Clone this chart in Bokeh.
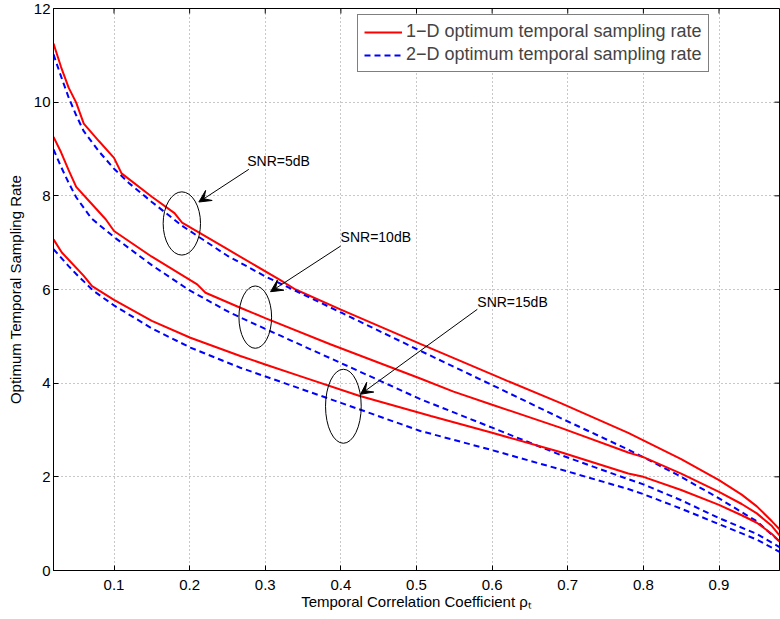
from bokeh.plotting import figure
from bokeh.models import Range1d, FixedTicker, Legend, LegendItem, Arrow, VeeHead
from bokeh.core.properties import value
from bokeh.embed import file_html
from bokeh.resources import INLINE

# ---- data ----
x_ticks = [0.1, 0.2, 0.3, 0.4, 0.5, 0.6, 0.7, 0.8, 0.9]
y_ticks = [0, 2, 4, 6, 8, 10, 12]

x_r5 = [0.02, 0.03, 0.04, 0.05, 0.06, 0.08, 0.10, 0.11, 0.15, 0.18, 0.19, 0.25, 0.32, 0.34, 0.40, 0.505, 0.61, 0.62, 0.69, 0.78, 0.80, 0.85, 0.90, 0.93, 0.95, 0.97, 0.98]
y_r5 = [11.25, 10.75, 10.31, 9.99, 9.54, 9.17, 8.81, 8.48, 7.98, 7.63, 7.43, 6.86, 6.20, 6.00, 5.57, 4.84, 4.12, 4.05, 3.58, 2.94, 2.78, 2.38, 1.93, 1.62, 1.37, 1.05, 0.88]

x_b5 = [0.02, 0.03, 0.04, 0.05, 0.06, 0.08, 0.10, 0.12, 0.15, 0.19, 0.25, 0.30, 0.40, 0.50, 0.60, 0.69, 0.78, 0.80, 0.85, 0.90, 0.95, 0.98]
y_b5 = [11.02, 10.55, 10.10, 9.72, 9.38, 8.95, 8.58, 8.27, 7.87, 7.36, 6.72, 6.28, 5.51, 4.73, 3.96, 3.26, 2.58, 2.42, 2.00, 1.54, 1.05, 0.62]

x_r10 = [0.02, 0.03, 0.04, 0.05, 0.067, 0.089, 0.10, 0.15, 0.21, 0.221, 0.267, 0.30, 0.386, 0.505, 0.549, 0.60, 0.69, 0.78, 0.80, 0.85, 0.90, 0.93, 0.95, 0.97, 0.98]
y_r10 = [9.26, 8.93, 8.55, 8.19, 7.89, 7.50, 7.25, 6.70, 6.11, 5.93, 5.61, 5.39, 4.83, 4.10, 3.82, 3.54, 3.05, 2.52, 2.42, 2.07, 1.68, 1.42, 1.22, 0.95, 0.75]

x_b10 = [0.02, 0.03, 0.04, 0.05, 0.07, 0.10, 0.15, 0.20, 0.254, 0.30, 0.40, 0.505, 0.60, 0.69, 0.78, 0.80, 0.85, 0.90, 0.95, 0.98]
y_b10 = [8.99, 8.62, 8.28, 7.97, 7.52, 7.12, 6.52, 5.98, 5.50, 5.16, 4.43, 3.66, 3.05, 2.47, 1.95, 1.84, 1.50, 1.12, 0.78, 0.50]

x_r15 = [0.02, 0.031, 0.045, 0.06, 0.071, 0.10, 0.15, 0.201, 0.267, 0.30, 0.35, 0.424, 0.519, 0.60, 0.69, 0.78, 0.80, 0.85, 0.90, 0.93, 0.95, 0.97, 0.98]
y_r15 = [7.07, 6.79, 6.55, 6.29, 6.07, 5.78, 5.33, 4.97, 4.58, 4.40, 4.13, 3.73, 3.30, 2.94, 2.53, 2.07, 2.00, 1.72, 1.40, 1.18, 1.02, 0.78, 0.62]

x_b15 = [0.02, 0.04, 0.05, 0.073, 0.10, 0.15, 0.201, 0.267, 0.40, 0.505, 0.60, 0.69, 0.78, 0.80, 0.85, 0.90, 0.95, 0.98]
y_b15 = [6.86, 6.50, 6.33, 5.97, 5.66, 5.17, 4.76, 4.33, 3.58, 2.98, 2.57, 2.16, 1.74, 1.63, 1.32, 0.99, 0.66, 0.40]

# annotations (ellipses, arrows, labels)
ell_x = [0.1897, 0.2868, 0.4033]
ell_y = [7.41, 5.41, 3.507]
ell_w = [0.0494, 0.0432, 0.0472]
ell_h = [1.35, 1.33, 1.58]

arr_x0 = [0.2783, 0.3996, 0.5804]
arr_y0 = [8.566, 6.927, 5.577]
arr_x1 = [0.2122, 0.3070, 0.4260]
arr_y1 = [7.868, 5.953, 3.763]

ann_text = ["SNR=5dB", "SNR=10dB", "SNR=15dB"]
ann_x = [0.2762, 0.3996, 0.5804]
ann_y = [8.74, 7.12, 5.73]

FONT = "Liberation Sans"
X_MIN, X_MAX, Y_MIN, Y_MAX = 0.02, 0.98, 0, 12

p = figure(width=780, height=619,
           x_range=Range1d(X_MIN, X_MAX), y_range=Range1d(Y_MIN, Y_MAX),
           output_backend="svg", toolbar_location=None,
           min_border_left=53, min_border_right=1, min_border_top=8, min_border_bottom=49)

p.outline_line_color = "black"
p.outline_line_width = 1

for ax in (p.xaxis, p.yaxis):
    ax.major_tick_in = 5
    ax.major_tick_out = 0
    ax.minor_tick_line_color = None
    ax.axis_line_color = "black"
    ax.major_tick_line_color = "black"
    ax.major_label_text_font = FONT
    ax.major_label_text_font_size = "15px"
    ax.major_label_text_color = "black"
    ax.axis_label_text_font = FONT
    ax.axis_label_text_font_size = "15px"
    ax.axis_label_text_font_style = "normal"
    ax.axis_label_text_color = "black"

p.xaxis.ticker = FixedTicker(ticks=x_ticks)
p.yaxis.ticker = FixedTicker(ticks=y_ticks)
p.xaxis.axis_label = "Temporal Correlation Coefficient ρₜ"
p.yaxis.axis_label = "Optimum Temporal Sampling Rate"
p.xaxis.major_label_standoff = 9
p.xaxis.axis_label_standoff = 0
p.xaxis.axis_label_text_line_height = 1.0
p.xaxis.major_label_text_line_height = 1.0
p.yaxis.major_label_standoff = 3
p.yaxis.axis_label_standoff = 7

# inward ticks on the top and right edges of the box
tick_dy = 0.107
tick_dx = 0.0066
p.segment(x0=x_ticks, y0=[Y_MAX] * len(x_ticks), x1=x_ticks, y1=[Y_MAX - tick_dy] * len(x_ticks),
          line_color="black", line_width=1)
p.segment(x0=[X_MAX] * len(y_ticks), y0=y_ticks, x1=[X_MAX - tick_dx] * len(y_ticks), y1=y_ticks,
          line_color="black", line_width=1)

p.xgrid.grid_line_color = "#909090"
p.ygrid.grid_line_color = "#909090"
p.xgrid.grid_line_dash = "1 3"
p.ygrid.grid_line_dash = "1 3"

RED = "#ff0000"
BLUE = "#0000ff"
r5 = p.line(x_r5, y_r5, line_color=RED, line_width=2)
b5 = p.line(x_b5, y_b5, line_color=BLUE, line_width=2, line_dash="6 4")
p.line(x_r10, y_r10, line_color=RED, line_width=2)
p.line(x_b10, y_b10, line_color=BLUE, line_width=2, line_dash="6 4")
p.line(x_r15, y_r15, line_color=RED, line_width=2)
p.line(x_b15, y_b15, line_color=BLUE, line_width=2, line_dash="6 4")

p.ellipse(x=ell_x, y=ell_y, width=ell_w, height=ell_h, fill_color=None,
          line_color="black", line_width=1)

for i in range(3):
    p.add_layout(Arrow(end=VeeHead(size=12, fill_color="black", line_color="black", line_width=1),
                       x_start=arr_x0[i], y_start=arr_y0[i], x_end=arr_x1[i], y_end=arr_y1[i],
                       line_color="black", line_width=1))

p.text(x=ann_x, y=ann_y, text=ann_text, text_font=value(FONT), text_font_size="14px",
       text_baseline="middle", text_align="left", text_color="black")

legend = Legend(items=[LegendItem(label="1−D optimum temporal sampling rate", renderers=[r5]),
                       LegendItem(label="2−D optimum temporal sampling rate", renderers=[b5])],
                location=(304, 498))
legend.label_text_font = FONT
legend.label_text_font_size = "18px"
legend.glyph_width = 38
legend.glyph_height = 20
legend.label_height = 20
legend.label_standoff = 4
legend.padding = 6
legend.spacing = 2
legend.margin = 0
legend.border_line_color = "black"
legend.border_line_width = 1
legend.background_fill_color = "white"
legend.background_fill_alpha = 1
p.add_layout(legend, "center")

open("out.html", "w").write(file_html(p, INLINE))
